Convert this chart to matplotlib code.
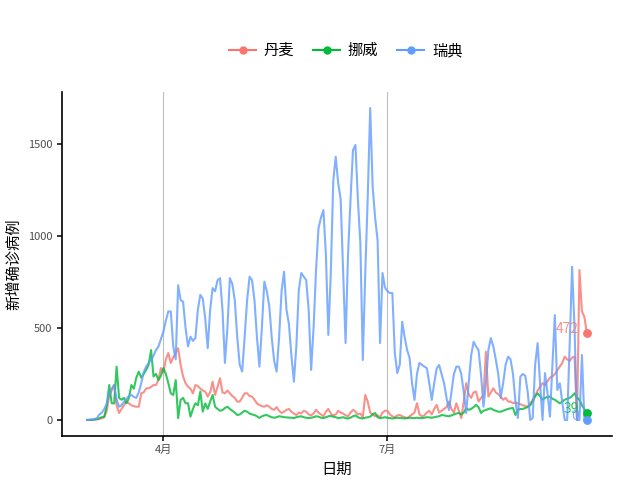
import numpy as np
import pandas as pd
import matplotlib
matplotlib.use("Agg")
import matplotlib.pyplot as plt
import matplotlib.dates as mdates

plt.rcParams["font.family"] = ["Noto Sans CJK SC", "DejaVu Sans"]

# daily new cases, 2020-03-01 .. 2020-09-20
dates = pd.date_range("2020-03-01", "2020-09-20", freq="D")

se_mar = [0,1,2,5,10, 30,40,60,90,140, 170,190,110,72,80, 100,115,130,136,125,
          120,150,200,260,290, 310,326,350,380,400, 440]
se_apr = [480,540,590,590,400, 330,733,652,643,500, 400,453,430,445,600,
          680,660,550,390,600, 717,700,760,771,600, 310,500,771,740,650]
se_may = [450,300,263,450,650, 779,760,650,450,290, 500,752,700,620,450,
          320,263,450,700,806, 600,520,350,208,400, 706,799,780,760,600, 272]
se_jun = [500,815,1043,1100,1141, 900,462,800,1300,1431, 1288,1200,800,418,900,
          1196,1467,1495,1200,962, 326,800,1213,1696,1268, 1100,978,418,799,720]
se_jul = [700,690,690,364,255, 300,534,450,380,337, 200,109,250,310,300,
          290,282,200,109,200, 280,299,250,200,120, 54,150,250,290,290, 250]
se_aug = [150,38,200,350,425, 400,380,250,72,200, 380,445,400,330,250,
          120,200,300,344,330, 250,100,11,236,250, 240,150,0,10,300, 418]
se_sep = [200,0,255,150,18, 300,570,163,200,100, 0,0,400,833,500, 0,0,353,0,0]

dk_mar = [0,0,1,2,3, 5,10,15,50,130, 160,190,80,38,60, 80,100,90,80,75,
          72,72,145,150,172, 172,180,190,190,220, 282]
dk_apr = [260,330,364,310,340, 364,390,300,236,200, 181,170,145,190,185,
          170,160,154,127,150, 208,136,180,227,150, 145,160,145,130,120]
dk_may = [100,100,120,145,145, 130,127,110,90,82, 75,72,80,72,60,
          55,70,50,38,45, 55,60,45,35,27, 40,35,50,45,30, 25]
dk_jun = [35,55,40,30,20, 45,60,35,25,30, 50,40,35,25,20,
          40,55,45,30,35, 15,136,100,40,30, 20,25,15,40,50]
dk_jul = [50,30,20,15,25, 27,20,15,10,20, 30,40,91,30,20,
          25,40,50,30,60, 82,40,50,60,70, 100,60,40,91,50, 10]
dk_aug = [100,200,140,120,150, 154,100,120,130,371, 127,150,172,150,140,
          127,110,120,100,100, 91,95,90,85,80, 75,72,90,110,130, 160]
dk_sep = [180,200,190,210,230, 236,250,270,290,310, 344,330,320,340,344, 0,815,590,560,472]

no_mar = [0,0,1,2,5, 10,15,18,80,190, 91,90,290,120,110, 120,91,120,190,170,
          230,263,230,250,272, 300,380,236,250,217, 240]
no_apr = [282,250,200,145,136, 217,10,109,120,91, 91,18,60,91,80,
          154,45,90,60,100, 136,72,60,50,54, 65,72,60,50,40]
no_may = [27,30,40,50,45, 35,30,27,20,11, 20,25,27,20,15,
          12,15,20,18,15, 14,13,12,10,15, 18,20,15,12,10, 12]
no_jun = [15,20,18,12,10, 15,20,22,18,15, 10,12,15,10,8,
          12,20,25,15,10, 8,12,15,18,30, 38,15,10,12,15]
no_jul = [12,10,8,10,12, 11,10,8,10,12, 11,10,12,11,10,
          12,15,14,12,15, 18,20,27,25,22, 20,25,30,35,38, 30]
no_aug = [40,63,55,60,70, 82,70,38,50,54, 60,63,55,50,45,
          45,50,55,60,63, 65,27,55,60,60, 65,70,80,100,130, 145]
no_sep = [130,110,120,125,127, 115,110,100,91,100, 110,115,120,130,145, 120,110,80,60,39]

sweden = se_mar + se_apr + se_may + se_jun + se_jul + se_aug + se_sep
denmark = dk_mar + dk_apr + dk_may + dk_jun + dk_jul + dk_aug + dk_sep
norway = no_mar + no_apr + no_may + no_jun + no_jul + no_aug + no_sep

countries = ["丹麦", "挪威", "瑞典"]
series = [denmark, norway, sweden]
colors = ["#F8766D", "#00BA38", "#619CFF"]

fig = plt.figure(figsize=(6.4, 4.8), dpi=100)
ax = fig.add_axes([0.097, 0.0925, 0.859, 0.715])

for name, vals, col in zip(countries, series, colors):
    ax.plot(dates, vals, color=col, lw=1.5, alpha=0.8, zorder=3)
    ax.plot([], [], color=col, lw=1.5, marker="o", ms=5, label=name)
    ax.scatter(dates[-1], vals[-1], color=col, s=28, zorder=4)
    ax.annotate(str(vals[-1]), (dates[-1], vals[-1]), xytext=(-6, 3),
                textcoords="offset points", ha="right", va="center",
                color=col, alpha=0.8, fontsize=10, zorder=5)

pad = pd.Timedelta(days=10.15)
ax.set_xlim(dates[0] - pad, dates[-1] + pad)
ax.set_ylim(-85, 1781)

ax.set_xticks([pd.Timestamp("2020-04-01"), pd.Timestamp("2020-07-01")])
ax.set_xticklabels(["4月", "7月"])
ax.set_yticks([0, 500, 1000, 1500])
ax.grid(axis="x", color="#BEBEBE", lw=0.8)
ax.set_axisbelow(True)

for s in ["top", "right"]:
    ax.spines[s].set_visible(False)
for s in ["left", "bottom"]:
    ax.spines[s].set_linewidth(1.2)
ax.tick_params(length=3.5, width=1.1, colors="black", labelcolor="#4D4D4D", labelsize=8)

ax.set_xlabel("日期", fontsize=11)
ax.set_ylabel("新增确诊病例", fontsize=11)

fig.legend(loc="center", bbox_to_anchor=(0.54, 0.895), ncol=3, frameon=False,
           fontsize=11, handlelength=1.8, columnspacing=1.2, handletextpad=0.5)

fig.savefig("out.png", dpi=100)
